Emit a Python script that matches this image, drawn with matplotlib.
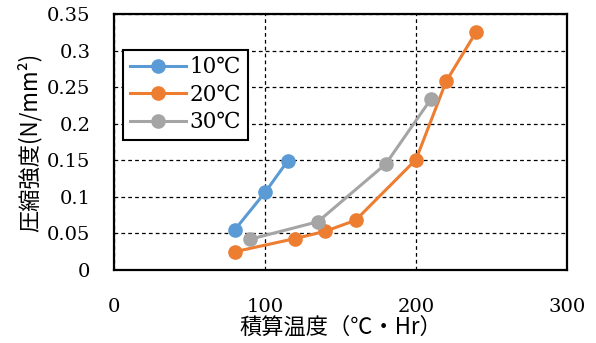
import matplotlib
matplotlib.use('Agg')
import matplotlib.pyplot as plt

# データ
x_10 = [80, 100, 115]
y_10 = [0.055, 0.106, 0.149]

x_20 = [80, 120, 140, 160, 200, 220, 240]
y_20 = [0.025, 0.043, 0.053, 0.068, 0.151, 0.258, 0.326]

x_30 = [90, 135, 180, 210]
y_30 = [0.042, 0.066, 0.145, 0.234]

labels = ['10℃', '20℃', '30℃']
colors = ['#5B9BD5', '#ED7D31', '#A5A5A5']

serif = ['DejaVu Serif', 'Noto Sans CJK JP']
jp = ['Noto Sans CJK JP', 'DejaVu Serif']
plt.rcParams['font.family'] = serif

fig = plt.figure(figsize=(5.96, 3.43), dpi=100)
ax = fig.add_axes([0.1913, 0.2128, 0.76, 0.7464])

for xs, ys, lab, c in zip([x_10, x_20, x_30], [y_10, y_20, y_30], labels, colors):
    ax.plot(xs, ys, color=c, linewidth=2.2, marker='o', markersize=9.5, label=lab)

ax.set_xlim(0, 300)
ax.set_ylim(0, 0.35)
ax.set_xticks([0, 100, 200, 300])
ax.set_xticklabels(['0', '100', '200', '300'])
ax.set_yticks([0, 0.05, 0.1, 0.15, 0.2, 0.25, 0.3, 0.35])
ax.set_yticklabels(['0', '0.05', '0.1', '0.15', '0.2', '0.25', '0.3', '0.35'])
ax.tick_params(axis='both', length=0, labelsize=14)
ax.tick_params(axis='x', pad=20)
ax.tick_params(axis='y', pad=17)

ax.grid(True, color='black', linestyle=(0, (3, 2.5)), linewidth=0.9)
ax.set_axisbelow(True)
for s in ax.spines.values():
    s.set_linewidth(1.6)
    s.set_color('black')

ax.set_xlabel('積算温度（℃・Hr）', fontsize=16, family=jp, labelpad=0)
ax.set_ylabel('圧縮強度(N/mm²)', fontsize=16, family=jp, labelpad=4)

leg = ax.legend(loc='upper left', bbox_to_anchor=(0.02, 0.86), borderaxespad=0,
                fancybox=False, edgecolor='black', framealpha=1, fontsize=15.5,
                handlelength=2.6, handletextpad=0.2, labelspacing=0.25,
                borderpad=0.3)
leg.get_frame().set_linewidth(1.5)

fig.savefig('out.png', dpi=100)
